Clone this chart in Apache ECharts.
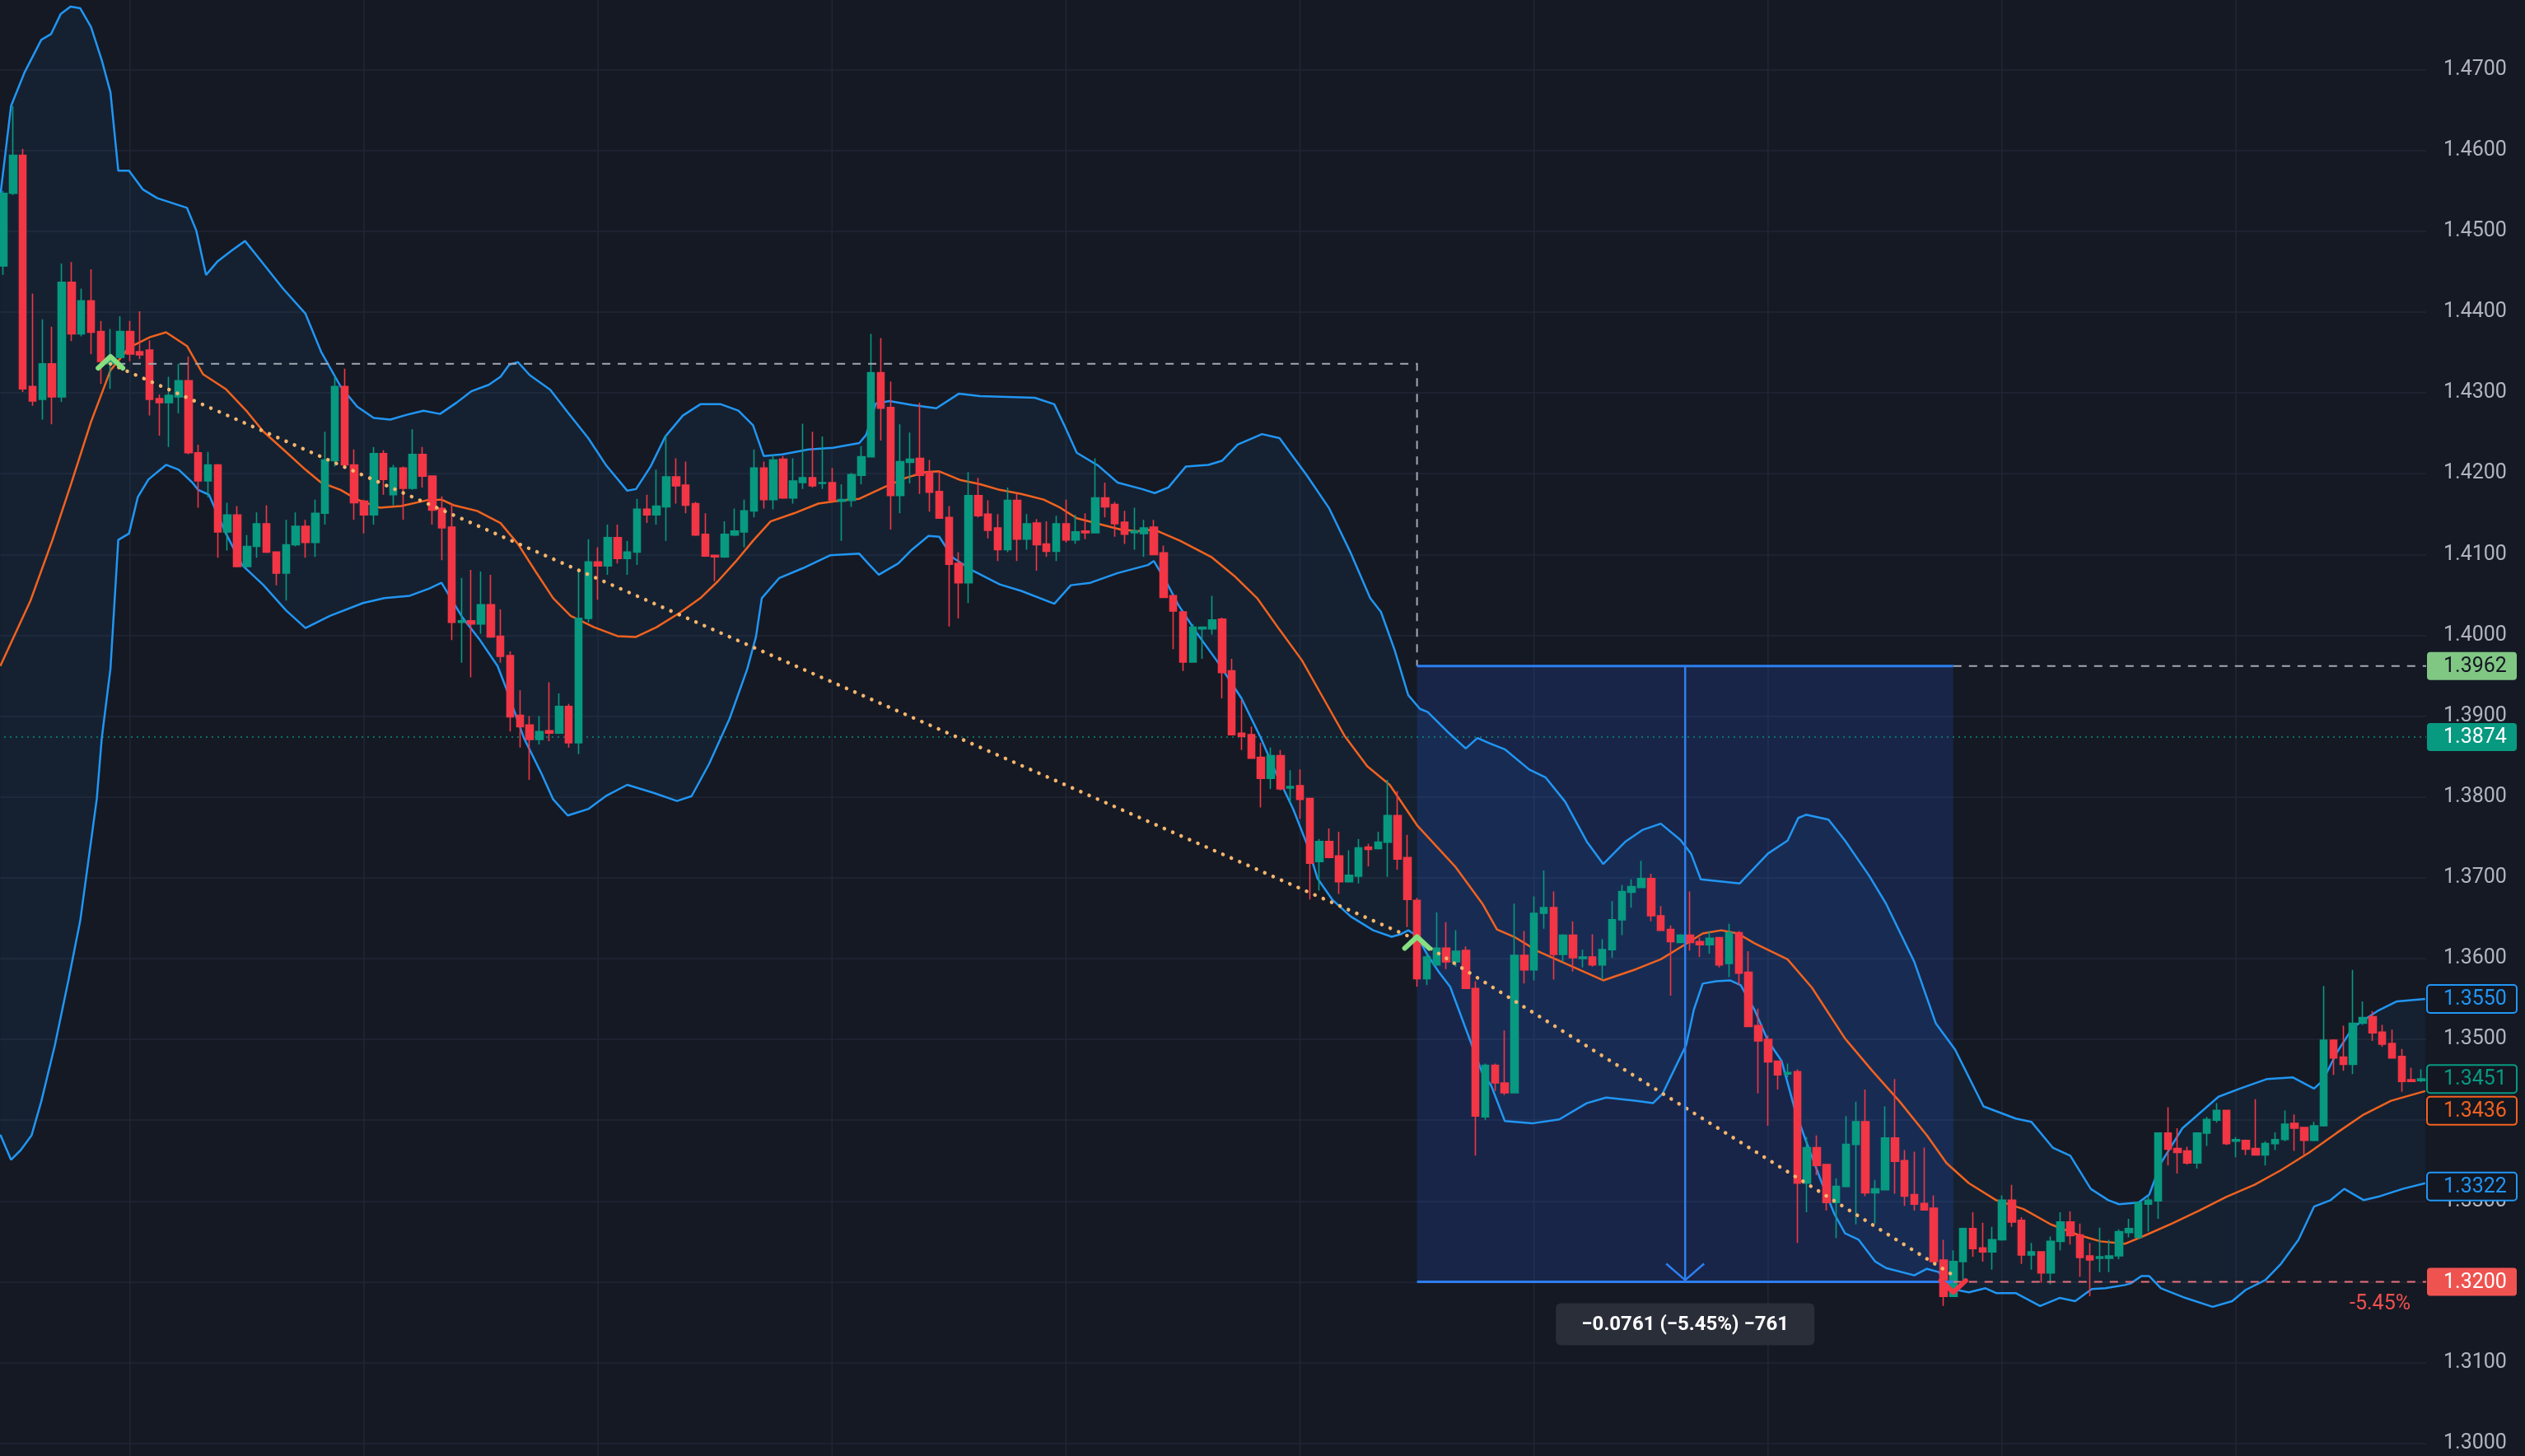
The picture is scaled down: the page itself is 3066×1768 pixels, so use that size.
<!DOCTYPE html>
<html><head><meta charset="utf-8">
<style>html,body{margin:0;padding:0;background:#151924;}#c{width:3066px;height:1768px;}</style>
<script src="https://cdn.jsdelivr.net/npm/echarts@6/dist/echarts.min.js"></script>
</head><body><div id="c"></div>
<script>
// ---------- DATA ----------
const openP = [
1.4457,1.4547,1.4594,1.4308,1.4292,1.4336,1.4295,1.4437,1.4373,1.4414,
1.4376,1.4336,1.4344,1.4376,1.4351,1.4353,1.4293,1.4288,1.4295,1.4315,
1.4226,1.4191,1.4211,1.4128,1.4149,1.4085,1.4110,1.4138,1.4103,1.4077,
1.4112,1.4135,1.4115,1.4151,1.4216,1.4308,1.4211,1.4166,1.4149,1.4225,
1.4174,1.4207,1.4182,1.4224,1.4197,1.4157,1.4134,1.4016,1.4018,1.4014,
1.4038,1.3999,1.3975,1.3901,1.3889,1.3871,1.3882,1.3879,1.3912,1.3867,
1.4021,1.4091,1.4086,1.4121,1.4095,1.4103,1.4156,1.4149,1.4159,1.4196,
1.4186,1.4163,1.4125,1.4099,1.4097,1.4124,1.4128,1.4154,1.4207,1.4168,
1.4218,1.4170,1.4189,1.4195,1.4188,1.4189,1.4166,1.4167,1.4198,1.4221,
1.4325,1.4282,1.4173,1.4214,1.4219,1.4202,1.4178,1.4146,1.4089,1.4065,
1.4173,1.4150,1.4133,1.4106,1.4167,1.4119,1.4139,1.4113,1.4104,1.4138,
1.4118,1.4129,1.4127,1.4170,1.4162,1.4140,1.4127,1.4126,1.4134,1.4102,
1.4049,1.4029,1.3967,1.4008,1.4008,1.4020,1.3956,1.3879,1.3877,1.3849,
1.3823,1.3851,1.3811,1.3814,1.3798,1.3720,1.3745,1.3727,1.3695,1.3702,
1.3738,1.3736,1.3744,1.3777,1.3725,1.3672,1.3575,1.3592,1.3613,1.3596,
1.3610,1.3563,1.3404,1.3468,1.3446,1.3434,1.3604,1.3586,1.3656,1.3663,
1.3605,1.3629,1.3600,1.3602,1.3592,1.3611,1.3648,1.3682,1.3688,1.3699,
1.3653,1.3636,1.3620,1.3629,1.3621,1.3617,1.3626,1.3594,1.3632,1.3583,
1.3517,1.3500,1.3473,1.3457,1.3460,1.3322,1.3366,1.3345,1.3298,1.3318,
1.3370,1.3398,1.3310,1.3314,1.3378,1.3350,1.3308,1.3297,1.3291,1.3227,
1.3182,1.3225,1.3266,1.3242,1.3237,1.3252,1.3301,1.3276,1.3233,1.3237,
1.3211,1.3250,1.3274,1.3258,1.3232,1.3229,1.3229,1.3232,1.3261,1.3255,
1.3296,1.3300,1.3384,1.3365,1.3362,1.3347,1.3384,1.3400,1.3412,1.3374,
1.3375,1.3365,1.3357,1.3371,1.3376,1.3396,1.3391,1.3375,1.3393,1.3499,
1.3478,1.3469,1.3520,1.3528,1.3509,1.3495,1.3479,1.3450,1.3449];
const highP = [
1.4550,1.4655,1.4602,1.4423,1.4391,1.4382,1.4460,1.4462,1.4429,1.4453,
1.4389,1.4379,1.4395,1.4389,1.4401,1.4365,1.4298,1.4320,1.4336,1.4345,
1.4236,1.4227,1.4212,1.4164,1.4160,1.4124,1.4152,1.4161,1.4104,1.4143,
1.4152,1.4143,1.4168,1.4252,1.4320,1.4330,1.4230,1.4168,1.4233,1.4229,
1.4211,1.4209,1.4255,1.4233,1.4198,1.4172,1.4163,1.4071,1.4081,1.4079,
1.4075,1.4032,1.3980,1.3932,1.3900,1.3900,1.3942,1.3928,1.3915,1.4081,
1.4119,1.4109,1.4137,1.4137,1.4117,1.4169,1.4174,1.4205,1.4248,1.4219,
1.4215,1.4165,1.4151,1.4100,1.4141,1.4157,1.4168,1.4230,1.4215,1.4224,
1.4222,1.4219,1.4262,1.4252,1.4246,1.4207,1.4187,1.4201,1.4234,1.4373,
1.4368,1.4314,1.4261,1.4251,1.4288,1.4217,1.4204,1.4160,1.4103,1.4202,
1.4195,1.4167,1.4150,1.4183,1.4175,1.4150,1.4144,1.4141,1.4148,1.4168,
1.4149,1.4151,1.4219,1.4189,1.4165,1.4154,1.4158,1.4143,1.4143,1.4111,
1.4049,1.4030,1.4014,1.4011,1.4049,1.4022,1.3971,1.3920,1.3887,1.3867,
1.3861,1.3858,1.3833,1.3834,1.3799,1.3748,1.3761,1.3757,1.3734,1.3748,
1.3742,1.3757,1.3821,1.3807,1.3753,1.3675,1.3606,1.3657,1.3645,1.3635,
1.3615,1.3572,1.3470,1.3470,1.3511,1.3668,1.3634,1.3677,1.3709,1.3683,
1.3630,1.3646,1.3611,1.3630,1.3624,1.3671,1.3691,1.3698,1.3721,1.3705,
1.3665,1.3641,1.3630,1.3683,1.3626,1.3634,1.3626,1.3643,1.3634,1.3609,
1.3538,1.3505,1.3473,1.3470,1.3463,1.3379,1.3381,1.3345,1.3328,1.3405,
1.3423,1.3438,1.3326,1.3417,1.3451,1.3363,1.3361,1.3366,1.3307,1.3252,
1.3239,1.3267,1.3286,1.3273,1.3268,1.3307,1.3320,1.3280,1.3248,1.3238,
1.3256,1.3286,1.3287,1.3272,1.3248,1.3267,1.3252,1.3265,1.3278,1.3299,
1.3306,1.3384,1.3416,1.3390,1.3367,1.3385,1.3404,1.3421,1.3413,1.3379,
1.3376,1.3426,1.3374,1.3385,1.3412,1.3407,1.3391,1.3398,1.3566,1.3500,
1.3517,1.3586,1.3547,1.3535,1.3518,1.3512,1.3488,1.3465,1.3463];
const lowP = [
1.4446,1.4545,1.4301,1.4284,1.4267,1.4261,1.4289,1.4364,1.4370,1.4348,
1.4311,1.4305,1.4343,1.4339,1.4342,1.4272,1.4247,1.4233,1.4275,1.4224,
1.4158,1.4171,1.4096,1.4105,1.4084,1.4084,1.4096,1.4102,1.4062,1.4043,
1.4110,1.4096,1.4097,1.4137,1.4209,1.4210,1.4143,1.4126,1.4137,1.4174,
1.4161,1.4143,1.4180,1.4183,1.4137,1.4093,1.3994,1.3966,1.3948,1.4002,
1.3997,1.3966,1.3881,1.3861,1.3821,1.3865,1.3869,1.3878,1.3861,1.3853,
1.4016,1.4044,1.4075,1.4089,1.4075,1.4087,1.4139,1.4137,1.4117,1.4163,
1.4151,1.4123,1.4097,1.4067,1.4096,1.4123,1.4109,1.4146,1.4157,1.4156,
1.4169,1.4163,1.4181,1.4183,1.4181,1.4166,1.4117,1.4159,1.4187,1.4220,
1.4241,1.4131,1.4151,1.4188,1.4175,1.4153,1.4145,1.4011,1.4021,1.4040,
1.4146,1.4120,1.4092,1.4103,1.4092,1.4106,1.4080,1.4097,1.4092,1.4115,
1.4113,1.4119,1.4126,1.4146,1.4122,1.4113,1.4106,1.4097,1.4100,1.4047,
1.3983,1.3956,1.3966,1.3971,1.4001,1.3922,1.3877,1.3858,1.3848,1.3787,
1.3810,1.3808,1.3793,1.3773,1.3673,1.3684,1.3724,1.3680,1.3694,1.3693,
1.3714,1.3735,1.3701,1.3710,1.3639,1.3565,1.3567,1.3591,1.3587,1.3590,
1.3563,1.3356,1.3400,1.3436,1.3431,1.3433,1.3569,1.3573,1.3637,1.3574,
1.3596,1.3584,1.3589,1.3590,1.3574,1.3601,1.3629,1.3663,1.3687,1.3646,
1.3635,1.3554,1.3619,1.3610,1.3602,1.3606,1.3589,1.3577,1.3567,1.3516,
1.3433,1.3393,1.3438,1.3453,1.3248,1.3286,1.3332,1.3288,1.3254,1.3317,
1.3271,1.3306,1.3272,1.3314,1.3309,1.3294,1.3288,1.3288,1.3224,1.3170,
1.3181,1.3199,1.3231,1.3225,1.3215,1.3251,1.3268,1.3222,1.3215,1.3199,
1.3197,1.3239,1.3246,1.3206,1.3182,1.3212,1.3212,1.3228,1.3255,1.3253,
1.3262,1.3278,1.3344,1.3334,1.3345,1.3340,1.3368,1.3397,1.3369,1.3354,
1.3357,1.3356,1.3344,1.3363,1.3374,1.3362,1.3357,1.3374,1.3392,1.3456,
1.3461,1.3457,1.3518,1.3498,1.3491,1.3476,1.3435,1.3447,1.3447];
const closeP = [
1.4547,1.4594,1.4305,1.4290,1.4336,1.4295,1.4437,1.4373,1.4414,1.4375,
1.4339,1.4342,1.4376,1.4348,1.4347,1.4292,1.4288,1.4297,1.4315,1.4226,
1.4191,1.4211,1.4128,1.4149,1.4085,1.4110,1.4138,1.4103,1.4077,1.4112,
1.4135,1.4115,1.4151,1.4217,1.4308,1.4211,1.4164,1.4149,1.4225,1.4193,
1.4207,1.4182,1.4224,1.4197,1.4155,1.4133,1.4016,1.4018,1.4014,1.4038,
1.3998,1.3974,1.3899,1.3887,1.3871,1.3881,1.3879,1.3912,1.3867,1.4021,
1.4091,1.4086,1.4121,1.4095,1.4103,1.4156,1.4149,1.4160,1.4196,1.4185,
1.4161,1.4124,1.4098,1.4097,1.4125,1.4129,1.4154,1.4207,1.4168,1.4217,
1.4170,1.4191,1.4195,1.4185,1.4189,1.4167,1.4168,1.4199,1.4221,1.4325,
1.4281,1.4173,1.4215,1.4218,1.4198,1.4177,1.4145,1.4088,1.4065,1.4173,
1.4148,1.4130,1.4106,1.4167,1.4119,1.4138,1.4112,1.4104,1.4138,1.4118,
1.4128,1.4127,1.4170,1.4159,1.4138,1.4125,1.4129,1.4133,1.4100,1.4047,
1.4030,1.3967,1.4010,1.4010,1.4019,1.3954,1.3877,1.3875,1.3848,1.3823,
1.3851,1.3810,1.3813,1.3797,1.3718,1.3745,1.3725,1.3695,1.3703,1.3737,
1.3735,1.3744,1.3777,1.3723,1.3673,1.3575,1.3602,1.3613,1.3596,1.3609,
1.3563,1.3405,1.3468,1.3446,1.3434,1.3604,1.3586,1.3656,1.3663,1.3605,
1.3629,1.3601,1.3602,1.3592,1.3611,1.3648,1.3683,1.3689,1.3699,1.3653,
1.3635,1.3621,1.3629,1.3620,1.3617,1.3625,1.3592,1.3632,1.3582,1.3516,
1.3498,1.3472,1.3456,1.3459,1.3322,1.3366,1.3344,1.3298,1.3318,1.3370,
1.3398,1.3310,1.3315,1.3378,1.3349,1.3306,1.3296,1.3289,1.3225,1.3182,
1.3225,1.3266,1.3241,1.3237,1.3252,1.3301,1.3274,1.3233,1.3237,1.3211,
1.3250,1.3274,1.3257,1.3230,1.3227,1.3231,1.3232,1.3262,1.3266,1.3298,
1.3301,1.3384,1.3364,1.3360,1.3347,1.3384,1.3401,1.3412,1.3371,1.3376,
1.3364,1.3357,1.3371,1.3376,1.3395,1.3390,1.3375,1.3393,1.3499,1.3477,
1.3469,1.3520,1.3527,1.3508,1.3494,1.3477,1.3448,1.3448,1.3451];

// Bollinger bands: [bar index, price]
const bbUpper = [[-0.3,1.4544],[0.8,1.4655],[2.2,1.4697],[3.9,1.4737],[4.9,1.4744],[5.9,1.4769],[6.9,1.4778],[7.9,1.4776],[9,1.4753],[10.1,1.4712],[11,1.4672],[11.8,1.4575],[12.9,1.4575],[14.3,1.4552],[15.8,1.4541],[18.85,1.4529],[19.8,1.4501],[20.8,1.4446],[22,1.4463],[23.4,1.4476],[24.8,1.4488],[26.2,1.4467],[28.7,1.4429],[31,1.4398],[32.6,1.4351],[34.6,1.4308],[36.3,1.4283],[38,1.4269],[39.7,1.4267],[41.4,1.4273],[43.1,1.4278],[44.8,1.4274],[46.5,1.4288],[48,1.4302],[49.8,1.4310],[51,1.4320],[51.9,1.4335],[52.8,1.4338],[54,1.4322],[56.1,1.4304],[57.9,1.4276],[60,1.4244],[61.8,1.4211],[64,1.4179],[64.9,1.4181],[66.4,1.4209],[67.9,1.4246],[69.7,1.4272],[71.5,1.4286],[73.6,1.4286],[75.4,1.4278],[76.9,1.4260],[78,1.4222],[79.9,1.4224],[82.6,1.4230],[85.1,1.4232],[87.8,1.4238],[88.5,1.4248],[89.5,1.4287],[90.9,1.4290],[93.2,1.4285],[95.7,1.4281],[98,1.4299],[100.2,1.4296],[103,1.4295],[105.8,1.4294],[107.8,1.4286],[108.9,1.4258],[110.1,1.4226],[112.3,1.4210],[114.3,1.4189],[116.8,1.4181],[118.1,1.4176],[119.5,1.4183],[121.3,1.4209],[123.6,1.4211],[125,1.4216],[126.6,1.4236],[129.1,1.4249],[130.9,1.4244],[133.7,1.4198],[136,1.4157],[138.2,1.4102],[140.2,1.4046],[141.3,1.4029],[142.7,1.3982],[144.1,1.3926],[145.3,1.3909],[146.1,1.3905],[148.1,1.3881],[150,1.3860],[151.2,1.3873],[152.5,1.3866],[154,1.3859],[156.5,1.3834],[158.2,1.3824],[160.2,1.3794],[162.4,1.3745],[164.1,1.3717],[166.4,1.3745],[168.1,1.3759],[170,1.3767],[172,1.3747],[173.1,1.3730],[174.1,1.3698],[175.7,1.3696],[178.1,1.3693],[181,1.3730],[183,1.3746],[184.1,1.3774],[184.9,1.3778],[187.2,1.3772],[188.9,1.3746],[191.4,1.3702],[193.1,1.3668],[196,1.3596],[198.2,1.3520],[200.2,1.3487],[203.1,1.3417],[206.4,1.3402],[208,1.3398],[210.2,1.3366],[212,1.3356],[214.1,1.3315],[215.9,1.3301],[217,1.3296],[219,1.3298],[220.1,1.3308],[221.3,1.3347],[223.5,1.3390],[227.2,1.3429],[229.4,1.3439],[232.2,1.3451],[234.8,1.3453],[237,1.3439],[237.9,1.3449],[239.3,1.3483],[241,1.3515],[243.5,1.3535],[245.5,1.3547],[248.4,1.3550]];
const bbLower = [[-0.3,1.3382],[0.8,1.3351],[1.8,1.3363],[2.9,1.3381],[3.9,1.3423],[5.3,1.3493],[6.7,1.3574],[7.9,1.3647],[8.7,1.3718],[9.6,1.3798],[10.1,1.3872],[11,1.3959],[11.8,1.4118],[12.9,1.4126],[13.8,1.4171],[14.9,1.4193],[16.7,1.4211],[18,1.4205],[19.4,1.4189],[20,1.4180],[21.1,1.4174],[22.8,1.4127],[24.5,1.4087],[26.7,1.4062],[29,1.4031],[31,1.4009],[33.5,1.4024],[36.9,1.4040],[39.1,1.4046],[41.7,1.4049],[43.7,1.4058],[44.95,1.4065],[45.9,1.4046],[47.1,1.4022],[48.9,1.3994],[50.7,1.3962],[51.6,1.3934],[53.4,1.3873],[55.2,1.3829],[56.4,1.3797],[57.9,1.3777],[60,1.3785],[61.8,1.3801],[64,1.3815],[66.7,1.3805],[69.1,1.3795],[70.6,1.3801],[72.4,1.3841],[74.5,1.3897],[76.3,1.3958],[77.2,1.3998],[77.8,1.4046],[79.6,1.4071],[82,1.4083],[84.8,1.4099],[87.8,1.4101],[88.7,1.4089],[89.8,1.4075],[91.8,1.4089],[93.2,1.4106],[94.9,1.4123],[96,1.4122],[97.4,1.4096],[99.6,1.4079],[102.2,1.4063],[104.4,1.4055],[107.8,1.4039],[109.5,1.4062],[111.5,1.4065],[114.3,1.4077],[117.4,1.4087],[118,1.4092],[119.2,1.4068],[120.5,1.4038],[122.4,1.4003],[124.5,1.3968],[127,1.3922],[128.9,1.3875],[130.6,1.3828],[132.3,1.3785],[133.7,1.3742],[134.8,1.3699],[136.3,1.3673],[138.2,1.3652],[140.5,1.3635],[142.4,1.3627],[143.3,1.3630],[144.1,1.3635],[145,1.3628],[146.1,1.3604],[147.2,1.3584],[148.4,1.3565],[151.7,1.3458],[152.6,1.3443],[154,1.3399],[156.8,1.3396],[159.6,1.3401],[162.4,1.3421],[164.4,1.3428],[167.5,1.3424],[169.2,1.3421],[170.2,1.3433],[171.4,1.3463],[172.6,1.3493],[173.4,1.3537],[174.3,1.3569],[175.7,1.3572],[177.1,1.3573],[178.2,1.3567],[179.6,1.3537],[181,1.3498],[182.4,1.3473],[183.8,1.3411],[184.9,1.3374],[186.4,1.3326],[187.8,1.3284],[188.9,1.3260],[190.3,1.3252],[192,1.3225],[193.1,1.3217],[196,1.3208],[197.3,1.3216],[198.5,1.3212],[199.9,1.3191],[201.6,1.3187],[203.3,1.3192],[204.4,1.3186],[206.4,1.3186],[208.9,1.3170],[210.9,1.3180],[212.5,1.3176],[214.2,1.3191],[215.6,1.3192],[217.6,1.3196],[218.2,1.3198],[219.3,1.3207],[220.1,1.3207],[221.3,1.3192],[223.8,1.3180],[226.6,1.3169],[228.6,1.3176],[230,1.3190],[232,1.3202],[233.6,1.3222],[235.4,1.3252],[237,1.3293],[238.7,1.3301],[240.1,1.3315],[242.1,1.3301],[243.8,1.3306],[246.1,1.3315],[248.4,1.3322]];
const bbBasis = [[-0.3,1.3962],[2.8,1.4043],[5.05,1.4118],[7,1.4189],[9,1.4264],[11,1.4328],[12.9,1.4356],[15.05,1.4369],[16.7,1.4375],[18.85,1.4358],[20.5,1.4323],[22.8,1.4305],[25,1.4277],[26.7,1.4252],[29,1.4227],[31,1.4205],[32.6,1.4189],[34.6,1.4180],[36.3,1.4168],[38.6,1.4158],[40.8,1.4160],[43.4,1.4167],[44.95,1.4168],[46.2,1.4161],[48.6,1.4154],[51,1.4139],[52.8,1.4113],[54.6,1.4079],[56.4,1.4046],[58.2,1.4024],[60.6,1.4010],[63,1.3999],[64.9,1.3998],[67,1.4010],[69.4,1.4028],[71.5,1.4046],[73.3,1.4067],[75.1,1.4091],[76.9,1.4117],[78.7,1.4141],[81.1,1.4151],[83.6,1.4163],[86,1.4167],[87.8,1.4169],[90.3,1.4183],[92.6,1.4195],[94.6,1.4202],[96,1.4203],[98.2,1.4192],[100.2,1.4187],[102.2,1.4180],[104.4,1.4175],[106.7,1.4168],[108.4,1.4158],[110.1,1.4145],[112.3,1.4138],[114.6,1.4131],[116.3,1.4129],[118,1.4131],[120.7,1.4117],[123.9,1.4097],[126.4,1.4072],[128.6,1.4046],[130.9,1.4007],[133.2,1.3969],[135.4,1.3922],[137.6,1.3875],[139.9,1.3838],[142.2,1.3815],[145,1.3765],[148.9,1.3714],[151.7,1.3668],[153.2,1.3636],[155.1,1.3626],[157.4,1.3609],[160.2,1.3594],[164.1,1.3573],[167.5,1.3587],[170,1.3599],[172.3,1.3616],[174.3,1.3631],[176.2,1.3635],[177.9,1.3631],[179.6,1.3619],[183,1.3599],[185.5,1.3564],[188.9,1.3501],[191.7,1.3461],[194.5,1.3423],[197.3,1.3381],[199.3,1.3347],[201.6,1.3322],[204.4,1.3301],[207.2,1.3290],[210,1.3271],[212.8,1.3258],[215.1,1.3250],[217.6,1.3247],[219.6,1.3257],[222.4,1.3272],[225.2,1.3288],[228,1.3305],[230.9,1.3320],[233.6,1.3338],[236.5,1.3360],[239.3,1.3384],[242.1,1.3407],[244.9,1.3424],[248.4,1.3436]];

// Drawing annotations (bar index, price)
const trendPts = [[11,1.4336],[145,1.3623],[200,1.3208]];
const pivotUp = [[11,1.4347],[145,1.3629]];
const pivotDown = [[200,1.3185]];
const swingHigh = [11, 1.4336];
const rangeStart = 145, rangeEnd = 200;
const rangeTop = 1.3962, rangeBottom = 1.3200;
const rangeLabel = '\u22120.0761 (\u22125.45%) \u2212761';
const rangePct = '-5.45%';
const refPrice = 1.3874;
const dayLines = [13,37,61,85,109,133,157,181,205,229];
const tagPrices = [1.3962, 1.3874, 1.3550, 1.3451, 1.3436, 1.3322, 1.3200];
const yTickMin = 1.29, yTickMax = 1.48, yTickStep = 0.01;

// ---------- STYLE ----------
const FONT = 'Roboto, "Noto Sans", "DejaVu Sans", sans-serif';
const UP = '#089981', DOWN = '#f23645', BLUE = '#2196f3', ORANGE = '#f2621f';
const tagStyles = [
  {fill:'#81c784', stroke:null, text:'#131722', dy:0},
  {fill:'#089981', stroke:null, text:'#ffffff', dy:0},
  {fill:'#131722', stroke:BLUE, text:BLUE, dy:0},
  {fill:'#131722', stroke:UP, text:UP, dy:0},
  {fill:'#131722', stroke:ORANGE, text:ORANGE, dy:24},
  {fill:'#131722', stroke:BLUE, text:BLUE, dy:4},
  {fill:'#ef5350', stroke:null, text:'#ffffff', dy:0}
];

const N = openP.length;
const categories = openP.map((_, i) => String(i));
const ohlc = openP.map((o, i) => [o, closeP[i], lowP[i], highP[i]]);

function renderDayLines(params, api) {
  const x = api.coord([api.value(0), 1.4])[0];
  const cs = params.coordSys;
  return {type:'line', shape:{x1:x, y1:cs.y, x2:x, y2:cs.y + cs.height},
          style:{stroke:'#222634', lineWidth:1.5}};
}
function renderBandFill(params, api) {
  const pts = bbUpper.map(p => api.coord(p)).concat(bbLower.slice().reverse().map(p => api.coord(p)));
  return {type:'polygon', shape:{points:pts}, style:{fill:'rgba(33,150,243,0.065)'}};
}
function renderRangeFill(params, api) {
  const a = api.coord([rangeStart, rangeTop]), b = api.coord([rangeEnd, rangeBottom]);
  const l = api.coord([-0.5, refPrice]), r = api.coord([N - 0.5, refPrice]);
  return {type:'group', children:[
    {type:'rect', shape:{x:a[0], y:a[1], width:b[0]-a[0], height:b[1]-a[1]}, style:{fill:'rgba(41,98,255,0.17)'}},
    {type:'line', shape:{x1:l[0], y1:l[1], x2:r[0], y2:r[1]}, style:{stroke:'rgba(8,153,129,0.9)', lineWidth:1.5, lineDash:[2,5]}}
  ]};
}
function renderAnno(params, api) {
  const a = api.coord([rangeStart, rangeTop]), b = api.coord([rangeEnd, rangeBottom]);
  const rightX = api.coord([N - 0.5, rangeTop])[0];
  const sh = api.coord(swingHigh);
  const midX = api.coord([(rangeStart + rangeEnd) / 2, rangeTop])[0];
  const ch = [];
  ch.push({type:'polyline', shape:{points:[[sh[0] + 8, sh[1]], [a[0], sh[1]], [a[0], a[1]]]},
           style:{stroke:'#a3a8b3', lineWidth:2, lineDash:[10,9], fill:'none'}});
  ch.push({type:'line', shape:{x1:b[0], y1:a[1], x2:rightX, y2:a[1]}, style:{stroke:'#a3a8b3', lineWidth:2, lineDash:[10,9]}});
  ch.push({type:'line', shape:{x1:b[0], y1:b[1], x2:rightX, y2:b[1]}, style:{stroke:'#e8717a', lineWidth:2, lineDash:[10,9]}});
  ch.push({type:'line', shape:{x1:a[0], y1:a[1], x2:b[0], y2:a[1]}, style:{stroke:'#2d7ff0', lineWidth:3}});
  ch.push({type:'line', shape:{x1:a[0], y1:b[1], x2:b[0], y2:b[1]}, style:{stroke:'#2d7ff0', lineWidth:3}});
  ch.push({type:'line', shape:{x1:midX, y1:a[1], x2:midX, y2:b[1] - 2}, style:{stroke:'#2d7ff0', lineWidth:2.5}});
  ch.push({type:'polyline', shape:{points:[[midX - 23, b[1] - 22], [midX, b[1] - 2], [midX + 23, b[1] - 22]]},
           style:{stroke:'#2d7ff0', lineWidth:2.5, fill:'none'}});
  const lw = 314, lh = 51, ly = b[1] + 26;
  ch.push({type:'rect', shape:{x:midX - lw/2, y:ly, width:lw, height:lh, r:6}, style:{fill:'#2a2e39'}});
  ch.push({type:'text', style:{x:midX, y:ly + lh/2 + 1, text:rangeLabel, fill:'#ffffff',
           font:'bold 24px ' + FONT, align:'center', verticalAlign:'middle'}});
  ch.push({type:'text', style:{x:rightX - 19, y:b[1] + 27, text:rangePct, fill:'#f0504f',
           font:'25px ' + FONT, align:'right', verticalAlign:'middle'}});
  pivotUp.forEach(p => {
    const c = api.coord(p);
    ch.push({type:'polyline', shape:{points:[[c[0]-15, c[1]+16], [c[0], c[1]+2], [c[0]+15, c[1]+16]]},
             style:{stroke:'#86df80', lineWidth:6, lineCap:'round', lineJoin:'round', fill:'none'}});
  });
  pivotDown.forEach(p => {
    const c = api.coord(p);
    ch.push({type:'polyline', shape:{points:[[c[0]-15, c[1]-16], [c[0], c[1]-2], [c[0]+15, c[1]-16]]},
             style:{stroke:'#f23645', lineWidth:6, lineCap:'round', lineJoin:'round', fill:'none'}});
  });
  return {type:'group', children:ch};
}
function renderTag(params, api) {
  const i = params.dataIndex;
  const st = tagStyles[i];
  const p = api.coord([api.value(0), api.value(1)]);
  const x0 = p[0] + 1, yc = p[1] + st.dy, w = 109, h = 34;
  return {type:'group', children:[
    {type:'rect', shape:{x:x0, y:yc - h/2, width:w, height:h, r:4},
     style:{fill:st.fill, stroke:st.stroke || 'none', lineWidth:st.stroke ? 2 : 0}},
    {type:'text', style:{x:x0 + 20, y:yc + 1, text:tagPrices[i].toFixed(4), fill:st.text,
     font:'25px ' + FONT, align:'left', verticalAlign:'middle'}}
  ]};
}

const chart = echarts.init(document.getElementById('c'), null, {renderer:'canvas', width:3066, height:1768});
chart.setOption({
  backgroundColor:'#151924',
  animation:false,
  grid:{left:-2, right:120, top:-13.5, bottom:-82.8, containLabel:false, outerBoundsMode:'none'},
  xAxis:[
    {type:'category', data:categories, boundaryGap:true, show:false},
    {type:'value', min:-0.5, max:N - 0.5, show:false}
  ],
  yAxis:{type:'value', position:'right', min:yTickMin, max:yTickMax, interval:yTickStep,
    axisLine:{show:false}, axisTick:{show:false},
    splitLine:{show:true, lineStyle:{color:'#222634', width:1.5}},
    axisLabel:{color:'#b2b5be', fontSize:25, fontFamily:FONT, margin:21,
      showMinLabel:false, showMaxLabel:false, formatter:v => v.toFixed(4)}},
  series:[
    {type:'custom', xAxisIndex:1, data:dayLines.map(d => [d, 1.4]), renderItem:renderDayLines, z:0, silent:true},
    {type:'custom', xAxisIndex:1, data:[[0, 1.4]], renderItem:renderBandFill, z:1, silent:true},
    {type:'custom', xAxisIndex:1, data:[[rangeStart, rangeTop]], renderItem:renderRangeFill, z:2, silent:true},
    {type:'line', xAxisIndex:1, data:bbUpper, symbol:'none', lineStyle:{color:BLUE, width:2.5}, z:3, silent:true},
    {type:'line', xAxisIndex:1, data:bbLower, symbol:'none', lineStyle:{color:BLUE, width:2.5}, z:3, silent:true},
    {type:'line', xAxisIndex:1, data:bbBasis, symbol:'none', lineStyle:{color:ORANGE, width:2.5}, z:3, silent:true},
    {type:'candlestick', xAxisIndex:0, data:ohlc, barWidth:9, z:4,
      itemStyle:{color:UP, color0:DOWN, borderColor:UP, borderColor0:DOWN, borderWidth:1.6}},
    {type:'line', xAxisIndex:1, data:trendPts, symbol:'none', z:5, silent:true,
      lineStyle:{color:'#f5b56c', width:4.5, type:[0.1, 11], cap:'round'}},
    {type:'custom', xAxisIndex:1, data:[[rangeStart, rangeTop]], renderItem:renderAnno, z:6, silent:true},
    {type:'custom', xAxisIndex:1, data:tagPrices.map(p => [N - 0.5, p]), renderItem:renderTag, z:7, silent:true}
  ]
});
</script>
</body></html>
